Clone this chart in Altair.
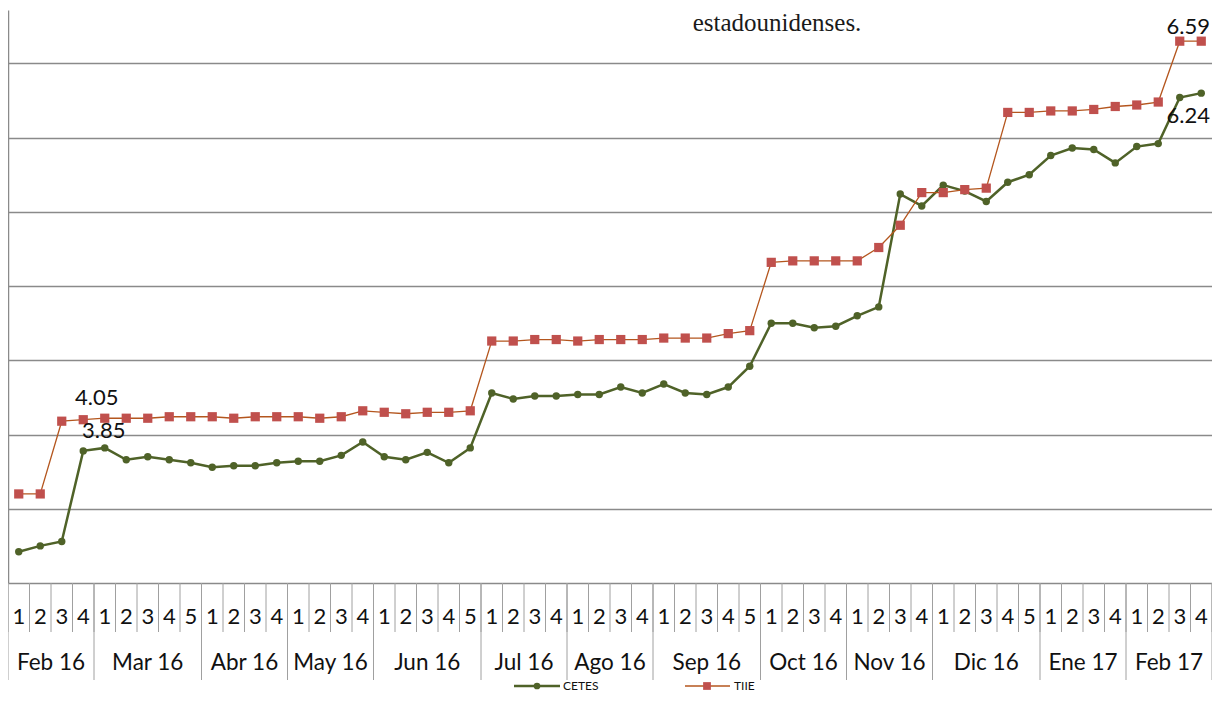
import altair as alt
import pandas as pd

# ---------------- data ----------------
months = ["Feb 16", "Mar 16", "Abr 16", "May 16", "Jun 16", "Jul 16", "Ago 16",
          "Sep 16", "Oct 16", "Nov 16", "Dic 16", "Ene 17", "Feb 17"]
weeks_per_month = [4, 5, 4, 4, 5, 4, 4, 5, 4, 4, 5, 4, 4]

cetes = [3.15, 3.19, 3.22, 3.83, 3.85, 3.77, 3.79, 3.77, 3.75, 3.72, 3.73, 3.73, 3.75, 3.76,
         3.76, 3.80, 3.89, 3.79, 3.77, 3.82, 3.75, 3.85, 4.22, 4.18, 4.20, 4.20, 4.21, 4.21,
         4.26, 4.22, 4.28, 4.22, 4.21, 4.26, 4.40, 4.69, 4.69, 4.66, 4.67, 4.74, 4.80, 5.56,
         5.48, 5.62, 5.58, 5.51, 5.64, 5.69, 5.82, 5.87, 5.86, 5.77, 5.88, 5.90, 6.21, 6.24]
tiie = [3.54, 3.54, 4.03, 4.04, 4.05, 4.05, 4.05, 4.06, 4.06, 4.06, 4.05, 4.06, 4.06, 4.06,
        4.05, 4.06, 4.10, 4.09, 4.08, 4.09, 4.09, 4.10, 4.57, 4.57, 4.58, 4.58, 4.57, 4.58,
        4.58, 4.58, 4.59, 4.59, 4.59, 4.62, 4.64, 5.10, 5.11, 5.11, 5.11, 5.11, 5.20, 5.35,
        5.57, 5.57, 5.59, 5.60, 6.11, 6.11, 6.12, 6.12, 6.13, 6.15, 6.16, 6.18, 6.59, 6.59]

series_names = ["CETES", "TIIE"]
series_colors = ["#4F6228", "#C0504D"]
y_grid = [2.94, 3.44, 3.94, 4.44, 4.94, 5.44, 5.94, 6.44]
y_domain = [2.94, 6.80]
heading = "estadounidenses."

# labelled points: (series, week index)
label_points = [("TIIE", 4), ("CETES", 4), ("TIIE", 55), ("CETES", 55)]

# ---------------- tables ----------------
rows, week_rows, month_rows, week_bounds, month_bounds = [], [], [], [], []
idx = 0
for m, n in zip(months, weeks_per_month):
    month_rows.append({"month": m, "center": idx + (n - 1) / 2})
    month_bounds.append({"b": idx - 0.5})
    for w in range(1, n + 1):
        week_rows.append({"idx": idx, "week": str(w)})
        week_bounds.append({"b": idx - 0.5})
        idx += 1
month_bounds.append({"b": idx - 0.5})
week_bounds.append({"b": idx - 0.5})

for i in range(len(cetes)):
    rows.append({"idx": i, "serie": "CETES", "value": cetes[i]})
    rows.append({"idx": i, "serie": "TIIE", "value": tiie[i]})
df = pd.DataFrame(rows)
weeks_df = pd.DataFrame(week_rows)
months_df = pd.DataFrame(month_rows)
wb_df = pd.DataFrame(week_bounds)
mb_df = pd.DataFrame(month_bounds)

lab_df = pd.DataFrame([
    {"idx": i, "serie": s, "value": (cetes if s == "CETES" else tiie)[i]}
    for s, i in label_points
])

FONT = "Lato"
xs = alt.Scale(domain=[-0.5, idx - 0.5], nice=False, zero=False)
ys = alt.Scale(domain=y_domain, nice=False, zero=False)
yaxis = alt.Axis(values=y_grid, labels=False, ticks=False, domain=True,
                 domainColor="#8a8a8a", domainWidth=1.5, grid=True,
                 gridColor="#8a8a8a", gridWidth=1.5, title=None)
X = alt.X("idx:Q", scale=xs, axis=None)
Y = alt.Y("value:Q", scale=ys, axis=yaxis)

base = alt.Chart(df)

cetes_line = base.transform_filter(alt.datum.serie == "CETES").mark_line(
    color=series_colors[0], strokeWidth=2.5).encode(x=X, y=Y)
cetes_pts = base.transform_filter(alt.datum.serie == "CETES").mark_point(
    shape="circle", filled=True, opacity=1, size=55, color=series_colors[0]).encode(x=X, y=Y)
tiie_line = base.transform_filter(alt.datum.serie == "TIIE").mark_line(
    color="#B4561E", strokeWidth=1.3).encode(x=X, y=Y)
tiie_pts = base.transform_filter(alt.datum.serie == "TIIE").mark_point(
    shape="square", filled=True, opacity=1, size=85, color=series_colors[1]).encode(x=X, y=Y)

# data labels
lab_base = alt.Chart(lab_df).transform_calculate(txt="format(datum.value, '.2f')")
lab_tiie_low = lab_base.transform_filter("datum.serie == 'TIIE' && datum.idx < 10").mark_text(
    font=FONT, fontSize=22, color="#111", dx=-8, dy=-20).encode(x=X, y=Y, text="txt:N")
lab_cetes_low = lab_base.transform_filter("datum.serie == 'CETES' && datum.idx < 10").mark_text(
    font=FONT, fontSize=22, color="#111", dx=-1, dy=-17).encode(x=X, y=Y, text="txt:N")
lab_tiie_hi = lab_base.transform_filter("datum.serie == 'TIIE' && datum.idx > 10").mark_text(
    font=FONT, fontSize=22, color="#111", dx=-13, dy=-14).encode(x=X, y=Y, text="txt:N")
lab_cetes_hi = lab_base.transform_filter("datum.serie == 'CETES' && datum.idx > 10").mark_text(
    font=FONT, fontSize=22, color="#111", dx=-13, dy=23).encode(x=X, y=Y, text="txt:N")

# two-level category axis
week_sep = alt.Chart(wb_df).mark_rule(color="#a0a0a0", strokeWidth=1).encode(
    x=alt.X("b:Q", scale=xs, axis=None), y=alt.value(573), y2=alt.value(622))
month_sep = alt.Chart(mb_df).mark_rule(color="#a0a0a0", strokeWidth=1).encode(
    x=alt.X("b:Q", scale=xs, axis=None), y=alt.value(573), y2=alt.value(670))
week_txt = alt.Chart(weeks_df).mark_text(font=FONT, fontSize=22, color="#111",
                                         baseline="middle").encode(
    x=X, y=alt.value(607), text="week:N")
month_txt = alt.Chart(months_df).mark_text(font=FONT, fontSize=22.5, color="#111",
                                           baseline="middle").encode(
    x=alt.X("center:Q", scale=xs, axis=None), y=alt.value(653), text="month:N")

# legend
LEG_Y = 676
leg = alt.Chart(pd.DataFrame({"serie": series_names}))
leg_c_line = leg.transform_filter(alt.datum.serie == "CETES").mark_rule(
    color=series_colors[0], strokeWidth=2.5).encode(x=alt.value(506), x2=alt.value(552), y=alt.value(LEG_Y))
leg_c_pt = leg.transform_filter(alt.datum.serie == "CETES").mark_point(
    shape="circle", filled=True, opacity=1, size=45, color=series_colors[0]).encode(
    x=alt.value(529), y=alt.value(LEG_Y))
leg_c_txt = leg.transform_filter(alt.datum.serie == "CETES").mark_text(
    font=FONT, fontSize=12, color="#111", align="left", baseline="middle").encode(
    x=alt.value(555), y=alt.value(LEG_Y), text="serie:N")
leg_t_line = leg.transform_filter(alt.datum.serie == "TIIE").mark_rule(
    color="#B4561E", strokeWidth=1.3).encode(x=alt.value(677), x2=alt.value(722), y=alt.value(LEG_Y))
leg_t_pt = leg.transform_filter(alt.datum.serie == "TIIE").mark_point(
    shape="square", filled=True, opacity=1, size=60, color=series_colors[1]).encode(
    x=alt.value(699), y=alt.value(LEG_Y))
leg_t_txt = leg.transform_filter(alt.datum.serie == "TIIE").mark_text(
    font=FONT, fontSize=12, color="#111", align="left", baseline="middle").encode(
    x=alt.value(726), y=alt.value(LEG_Y), text="serie:N")

head = alt.Chart(pd.DataFrame({"t": [heading]})).mark_text(
    font="Liberation Serif", fontSize=25, color="#1a1a1a", baseline="alphabetic").encode(
    x=alt.value(769), y=alt.value(21), text="t:N")

chart = alt.layer(
    cetes_line, tiie_line, cetes_pts, tiie_pts,
    lab_tiie_low, lab_cetes_low, lab_tiie_hi, lab_cetes_hi,
    week_sep, month_sep, week_txt, month_txt,
    leg_c_line, leg_c_pt, leg_c_txt, leg_t_line, leg_t_pt, leg_t_txt, head
).properties(
    width=1204, height=573,
    padding={"left": 0, "top": 2, "right": 0, "bottom": 110},
    autosize=alt.AutoSizeParams(type="none"),
).configure_view(stroke=None)

chart.save("out.html", embed_options={"renderer": "svg", "actions": False})
